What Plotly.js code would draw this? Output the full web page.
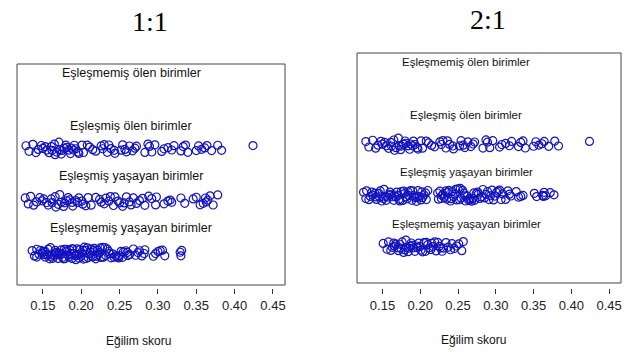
<!DOCTYPE html>
<html>
<head>
<meta charset="utf-8">
<script src="https://cdn.plot.ly/plotly-3.0.1.min.js"></script>
<style>html,body{margin:0;padding:0;background:#fff;}#chart{width:632px;height:352px;}</style>
</head>
<body>
<div id="chart"></div>
<script>
// ---- data (propensity scores) ----
const panelTitles = ["1:1", "2:1"];
const rowLabels = ["Eşleşmemiş ölen birimler", "Eşleşmiş ölen birimler", "Eşleşmiş yaşayan birimler", "Eşleşmemiş yaşayan birimler"];
const rowPos = [4, 3, 2, 1];
const axisTitle = "Eğilim skoru";
const tickVals = [0.15, 0.20, 0.25, 0.30, 0.35, 0.40, 0.45];

// unmatched treated: empty in both panels
const unmatchedTreated = [];

// matched treated (same in both panels)
const matchedTreated = [0.128, 0.132, 0.137, 0.141, 0.144, 0.148, 0.150, 0.153, 0.155, 0.158, 0.161, 0.162, 0.165, 0.166, 0.168, 0.171, 0.172, 0.174, 0.175, 0.178, 0.180, 0.181, 0.184, 0.186, 0.187, 0.190, 0.191, 0.193, 0.196, 0.197, 0.201, 0.203, 0.208, 0.211, 0.215, 0.219, 0.226, 0.228, 0.230, 0.234, 0.236, 0.239, 0.243, 0.244, 0.252, 0.254, 0.257, 0.259, 0.263, 0.267, 0.270, 0.272, 0.283, 0.287, 0.289, 0.292, 0.296, 0.305, 0.308, 0.313, 0.318, 0.321, 0.330, 0.333, 0.336, 0.339, 0.350, 0.353, 0.357, 0.361, 0.364, 0.370, 0.378, 0.383, 0.424];

// 1:1 matched controls
const matchedControl11 = [0.127, 0.131, 0.134, 0.138, 0.142, 0.146, 0.149, 0.151, 0.155, 0.157, 0.161, 0.162, 0.166, 0.167, 0.170, 0.172, 0.174, 0.177, 0.178, 0.181, 0.183, 0.185, 0.188, 0.189, 0.193, 0.195, 0.197, 0.201, 0.202, 0.206, 0.209, 0.213, 0.219, 0.224, 0.226, 0.230, 0.232, 0.236, 0.238, 0.242, 0.244, 0.248, 0.250, 0.254, 0.256, 0.259, 0.263, 0.265, 0.268, 0.272, 0.276, 0.280, 0.283, 0.288, 0.292, 0.297, 0.298, 0.308, 0.313, 0.316, 0.318, 0.330, 0.335, 0.346, 0.350, 0.355, 0.359, 0.362, 0.363, 0.365, 0.368, 0.372, 0.378];

// 1:1 unmatched controls
const unmatchedControl11 = [0.136, 0.139, 0.142, 0.142, 0.145, 0.147, 0.149, 0.150, 0.152, 0.153, 0.153, 0.156, 0.157, 0.159, 0.160, 0.160, 0.162, 0.163, 0.165, 0.166, 0.166, 0.168, 0.169, 0.170, 0.171, 0.173, 0.174, 0.174, 0.176, 0.177, 0.178, 0.179, 0.181, 0.181, 0.183, 0.184, 0.185, 0.187, 0.188, 0.188, 0.189, 0.191, 0.192, 0.193, 0.194, 0.195, 0.197, 0.197, 0.198, 0.200, 0.201, 0.202, 0.203, 0.204, 0.206, 0.206, 0.208, 0.209, 0.210, 0.212, 0.213, 0.213, 0.215, 0.216, 0.217, 0.219, 0.220, 0.221, 0.222, 0.224, 0.225, 0.226, 0.228, 0.229, 0.231, 0.232, 0.234, 0.236, 0.237, 0.239, 0.241, 0.243, 0.245, 0.247, 0.249, 0.250, 0.252, 0.254, 0.255, 0.258, 0.260, 0.261, 0.263, 0.268, 0.271, 0.274, 0.276, 0.279, 0.282, 0.283, 0.294, 0.297, 0.300, 0.303, 0.306, 0.309, 0.329, 0.330, 0.331];

// 2:1 matched controls
const matchedControl21 = [0.125, 0.128, 0.129, 0.132, 0.134, 0.136, 0.137, 0.140, 0.141, 0.142, 0.145, 0.146, 0.147, 0.149, 0.151, 0.152, 0.154, 0.155, 0.157, 0.159, 0.160, 0.161, 0.163, 0.165, 0.166, 0.167, 0.169, 0.171, 0.172, 0.173, 0.175, 0.177, 0.178, 0.179, 0.181, 0.183, 0.184, 0.185, 0.187, 0.189, 0.190, 0.191, 0.193, 0.195, 0.196, 0.197, 0.199, 0.201, 0.202, 0.203, 0.205, 0.207, 0.208, 0.210, 0.223, 0.224, 0.226, 0.228, 0.229, 0.230, 0.232, 0.234, 0.235, 0.236, 0.238, 0.240, 0.241, 0.242, 0.244, 0.246, 0.247, 0.248, 0.250, 0.252, 0.253, 0.254, 0.256, 0.258, 0.259, 0.260, 0.262, 0.264, 0.265, 0.266, 0.268, 0.270, 0.271, 0.272, 0.274, 0.276, 0.277, 0.279, 0.281, 0.283, 0.285, 0.287, 0.289, 0.291, 0.293, 0.295, 0.297, 0.299, 0.301, 0.303, 0.305, 0.307, 0.309, 0.313, 0.316, 0.318, 0.320, 0.327, 0.330, 0.333, 0.336, 0.351, 0.354, 0.362, 0.363, 0.364, 0.366, 0.372, 0.377];

// 2:1 unmatched controls
const unmatchedControl21 = [0.151, 0.156, 0.158, 0.161, 0.163, 0.165, 0.166, 0.168, 0.170, 0.171, 0.173, 0.174, 0.176, 0.178, 0.179, 0.181, 0.182, 0.184, 0.185, 0.187, 0.188, 0.190, 0.191, 0.193, 0.195, 0.196, 0.198, 0.200, 0.201, 0.203, 0.205, 0.207, 0.208, 0.210, 0.212, 0.214, 0.215, 0.217, 0.219, 0.221, 0.223, 0.225, 0.227, 0.229, 0.231, 0.234, 0.237, 0.240, 0.242, 0.245, 0.248, 0.251, 0.255, 0.257];

const panels = [
  [unmatchedTreated, matchedTreated, matchedControl11, unmatchedControl11],
  [unmatchedTreated, matchedTreated, matchedControl21, unmatchedControl21]
];

// ---- styling ----
const SANS = "Liberation Sans, Arial, sans-serif";
const SERIF = "Liberation Serif, Times New Roman, serif";
const PT_COLOR = "#1212C0";

const traces = [];
panels.forEach((groups, p) => {
  const xa = p === 0 ? "x" : "x2";
  const ya = p === 0 ? "y" : "y2";
  groups.forEach((vals, g) => {
    if (!vals.length) return;
    traces.push({
      type: "box", orientation: "h",
      x: vals, y0: rowPos[g],
      xaxis: xa, yaxis: ya,
      boxpoints: "all", jitter: 1, pointpos: 0, width: 0.26,
      fillcolor: "rgba(0,0,0,0)", line: {width: 0, color: "rgba(0,0,0,0)"},
      whiskerwidth: 0,
      marker: {symbol: "circle-open", size: 8, color: PT_COLOR, line: {width: 1.2, color: PT_COLOR}},
      hoverinfo: "skip"
    });
  });
});

const xBase = {
  range: [0.1163, 0.4657], tickvals: tickVals, tickformat: ".2f",
  ticks: "outside", ticklen: 5, tickwidth: 1, tickcolor: "#333",
  showline: false, showgrid: false, zeroline: false,
  tickfont: {family: SANS, size: 13, color: "#222"}, fixedrange: true
};
const yBase = {type: "linear", visible: false, showgrid: false, zeroline: false, fixedrange: true};

const labelY = [[4.435, 3.424, 2.47, 1.477], [4.61, 3.57, 2.45, 1.43]];
const labelX = [0.265, 0.261];
const labelSize = [12.5, 11.5];

const annotations = [];
panels.forEach((_, p) => {
  rowLabels.forEach((t, g) => {
    annotations.push({
      text: t, xref: p === 0 ? "x" : "x2", yref: p === 0 ? "y" : "y2",
      x: labelX[p], y: labelY[p][g], showarrow: false,
      xanchor: "center", yanchor: "middle",
      font: {family: SANS, size: labelSize[p], color: "#111"}
    });
  });
});
annotations.push({text: panelTitles[0], xref: "paper", yref: "paper", x: 150/632, y: 1 - 21/352, showarrow: false, xanchor: "center", yanchor: "middle", font: {family: SERIF, size: 28, color: "#000"}});
annotations.push({text: panelTitles[1], xref: "paper", yref: "paper", x: 488/632, y: 1 - 20/352, showarrow: false, xanchor: "center", yanchor: "middle", font: {family: SERIF, size: 28, color: "#000"}});
annotations.push({text: axisTitle, xref: "paper", yref: "paper", x: 138/632, y: 1 - 341/352, showarrow: false, xanchor: "center", yanchor: "middle", font: {family: SANS, size: 12, color: "#111"}});
annotations.push({text: axisTitle, xref: "paper", yref: "paper", x: 473/632, y: 1 - 340/352, showarrow: false, xanchor: "center", yanchor: "middle", font: {family: SANS, size: 12, color: "#111"}});

const layout = {
  width: 632, height: 352,
  margin: {l: 0, r: 0, t: 0, b: 0},
  paper_bgcolor: "#fff", plot_bgcolor: "#fff",
  showlegend: false, boxmode: "overlay",
  xaxis: Object.assign({}, xBase, {domain: [17/632, 285/632], anchor: "y"}),
  yaxis: Object.assign({}, yBase, {domain: [1 - 288/352, 1 - 64/352], range: [0.332, 4.607], anchor: "x"}),
  xaxis2: Object.assign({}, xBase, {domain: [357/632, 621/632], anchor: "y2"}),
  yaxis2: Object.assign({}, yBase, {domain: [1 - 288/352, 1 - 53/352], range: [0.176, 4.784], anchor: "x2"}),
  shapes: [
    {type: "rect", xref: "x domain", yref: "y domain", x0: 0, x1: 1, y0: 3/224, y1: 1, line: {color: "#444", width: 1}},
    {type: "rect", xref: "x2 domain", yref: "y2 domain", x0: 0, x1: 1, y0: 5/235, y1: 1, line: {color: "#444", width: 1}}
  ],
  annotations: annotations
};

Plotly.newPlot("chart", traces, layout, {staticPlot: true, displayModeBar: false});
</script>
</body>
</html>
